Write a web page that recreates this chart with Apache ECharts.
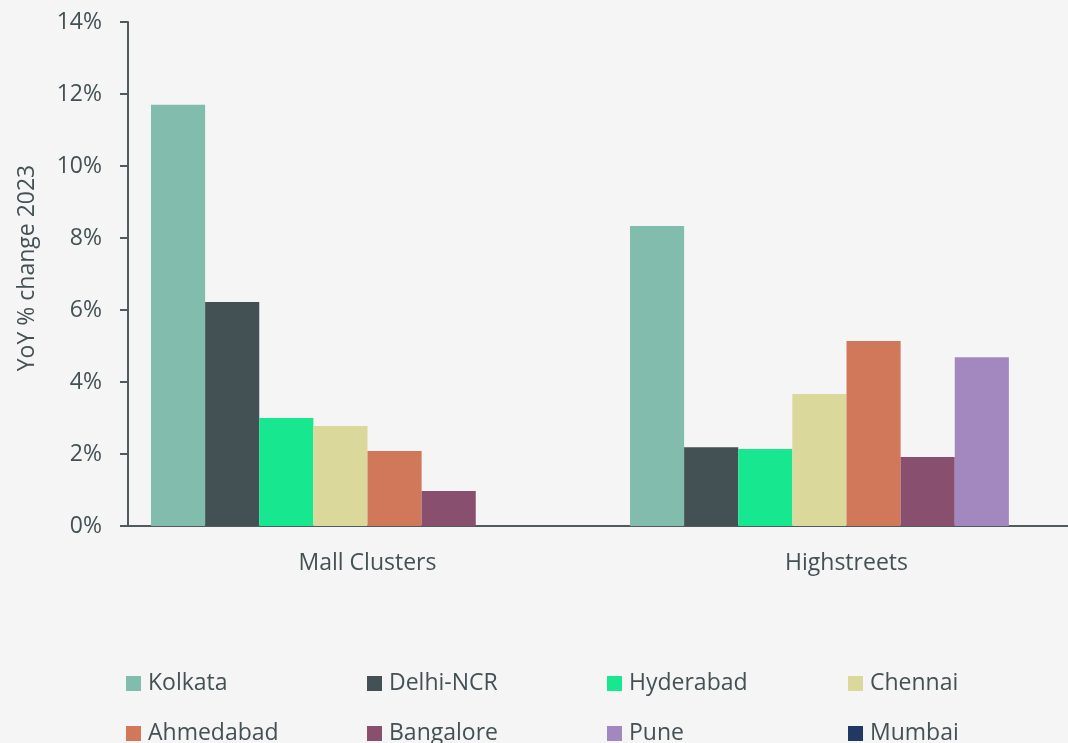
<!DOCTYPE html>
<html>
<head>
<meta charset="utf-8">
<script src="https://cdn.jsdelivr.net/npm/echarts@6/dist/echarts.min.js"></script>
<style>
  html, body { margin: 0; padding: 0; background: #f5f5f5; overflow: hidden; }
  /* plot runs past the right edge of the window, like the original */
  #chart { width: 1090px; height: 743px; }
</style>
</head>
<body>
<div id="chart"></div>
<script>
// categories on the x axis
const categories = ["Mall Clusters", "Highstreets"];
// cities, in legend / bar order
const cities = ["Kolkata", "Delhi-NCR", "Hyderabad", "Chennai", "Ahmedabad", "Bangalore", "Pune", "Mumbai"];
// YoY % change 2023 per city: [Mall Clusters, Highstreets]
const kolkata = [11.7, 8.33];
const delhiNcr = [6.22, 2.19];
const hyderabad = [3.0, 2.14];
const chennai = [2.78, 3.67];
const ahmedabad = [2.08, 5.14];
const bangalore = [0.97, 1.92];
const pune = [null, 4.69];
const mumbai = [null, null];
const cityValues = [kolkata, delhiNcr, hyderabad, chennai, ahmedabad, bangalore, pune, mumbai];
const colors = ["#82bcad", "#435155", "#17e88f", "#dbd89c", "#d2785a", "#884f6f", "#a388bf", "#1f3864"];

const textColor = "#435155";
const axisColor = "#4f5b5d";
const font = "Open Sans";
const fontSize = 23;

const chart = echarts.init(document.getElementById("chart"));

// legend: 4 columns x 2 rows, one legend per entry so the columns line up
const legendCols = [126, 367, 607, 848];
const legendRows = [672, 722];
const legends = cities.map((name, i) => ({
  left: legendCols[i % 4],
  top: legendRows[Math.floor(i / 4)],
  padding: 0,
  itemWidth: 15,
  itemHeight: 15,
  icon: "rect",
  selectedMode: false,
  data: [name],
  textStyle: { color: textColor, fontFamily: font, fontSize: fontSize, padding: [0, 0, 0, 2] }
}));

const option = {
  backgroundColor: "#f5f5f5",
  animation: false,
  color: colors,
  legend: legends,
  grid: { left: 128, top: 22, width: 958, height: 504, containLabel: false },
  xAxis: {
    type: "category",
    data: categories,
    axisLine: { lineStyle: { color: axisColor, width: 2 } },
    axisTick: { show: false },
    axisLabel: { color: textColor, fontFamily: font, fontSize: fontSize, margin: 26 }
  },
  yAxis: {
    type: "value",
    min: 0,
    max: 14,
    interval: 2,
    name: "YoY % change 2023",
    nameLocation: "middle",
    nameGap: 89,
    nameTextStyle: { color: textColor, fontFamily: font, fontSize: fontSize, padding: [0, 0, 0, 12] },
    axisLine: { show: true, lineStyle: { color: axisColor, width: 2 } },
    axisTick: { show: true, length: 8, lineStyle: { color: axisColor, width: 2 } },
    splitLine: { show: false },
    axisLabel: {
      color: textColor, fontFamily: font, fontSize: fontSize, margin: 26,
      formatter: v => v + "%"
    }
  },
  series: cities.map((name, i) => ({
    name: name,
    type: "bar",
    data: cityValues[i],
    barGap: "0%",
    barCategoryGap: "9.6%",
    itemStyle: { color: colors[i] }
  }))
};

chart.setOption(option);
</script>
</body>
</html>
